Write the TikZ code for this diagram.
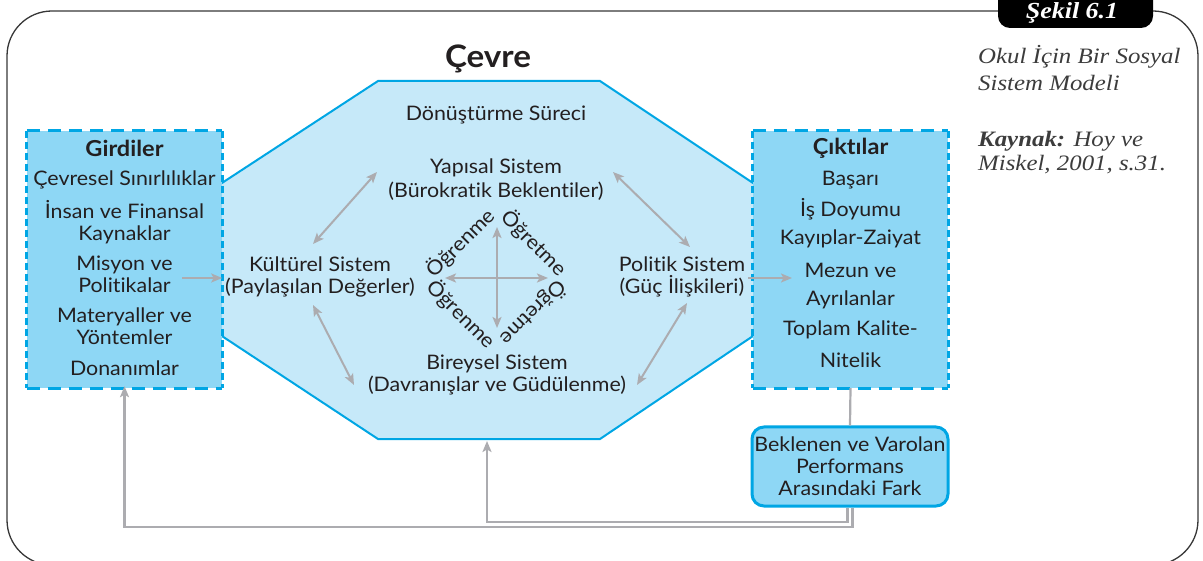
\documentclass[tikz,border=0pt]{standalone}
\usepackage{fontspec}
\setmainfont[FakeStretch=1.07, Ligatures=NoCommon]{Lato}
\newfontfamily\sidefont[FakeStretch=1.13]{Liberation Serif}
\usetikzlibrary{arrows.meta}
\definecolor{octfill}{RGB}{198,233,249}
\definecolor{boxfill}{RGB}{142,215,245}
\definecolor{cyanline}{RGB}{0,166,228}
\definecolor{arrgray}{RGB}{172,172,176}
\definecolor{txt}{RGB}{35,31,32}
\definecolor{framegray}{RGB}{55,55,55}
\definecolor{sidetxt}{RGB}{60,60,60}
\begin{document}
\begin{tikzpicture}[x=1pt,y=-1pt,
  lbl/.style={font=\fontsize{20}{22}\selectfont, text=txt, align=center, inner sep=0pt},
  ttl/.style={lbl, font=\fontsize{22}{24}\selectfont\bfseries},
  side/.style={font=\fontsize{22}{26}\selectfont\sidefont\itshape, text=sidetxt, inner sep=0pt, anchor=base west},
  conn/.style={draw=arrgray, line width=2.2pt},
  tip/.style={-{Stealth[length=11pt,width=9pt,inset=2.5pt]}},
  dbl/.style={{Stealth[length=11pt,width=9pt,inset=2.5pt]}-{Stealth[length=11pt,width=9pt,inset=2.5pt]}},
  boxbg/.style={fill=boxfill, inner sep=0pt, minimum width=195pt, minimum height=257pt},
  hd/.style={draw=cyanline, line width=3pt, dash pattern=on 13pt off 8pt},
  vd/.style={draw=cyanline, line width=3pt, dash pattern=on 7pt off 4pt},
  octo/.style={fill=octfill, draw=cyanline, line width=2pt, line join=miter}
]
\useasboundingbox (0,0) rectangle (1203,561);

% outer frame and tab
\draw[framegray, line width=1.3pt, rounded corners=45pt] (7,11) rectangle (1198,565);
\fill[black, rounded corners=12pt] (998,-20) rectangle (1153,28);
\node[font=\fontsize{23}{26}\selectfont\sidefont\bfseries\itshape, text=white, inner sep=0pt] (sekil) at (1072,13) {Şekil 6.1};

% side text
\node[side] (okul1) at (978,64) {Okul İçin Bir Sosyal};
\node[side] (okul2) at (978,91) {Sistem Modeli};
\node[side] (kay1) at (978,147) {\bfseries Kaynak:\mdseries{} Hoy ve};
\node[side] (kay2) at (978,171) {Miskel, 2001, s.31.};

% octagon
\draw[octo] (212,189.5) -- (378,81) -- (600,81) -- (763,189.7) -- (763,329.3) -- (600,439) -- (378,439) -- (212,329.5) -- cycle;

% boxes
\node[boxbg] (gird) at (124.5,259.5) {};
\node[boxbg] (cikt) at (850.5,259.5) {};
\foreach \b in {gird,cikt}{
  \draw[hd] (\b.north west) -- (\b.north east);
  \draw[hd] (\b.south west) -- (\b.south east);
  \draw[vd] (\b.north west) -- (\b.south west);
  \draw[vd] (\b.north east) -- (\b.south east);
}

% title
\node[lbl, font=\fontsize{31}{34}\selectfont\bfseries] (cevre) at (488,59) {Çevre};

% Girdiler texts
\node[ttl] (gtitle) at (124.5,148) {Girdiler};
\node[lbl] (g1) at (124.5,180) {Çevresel Sınırlılıklar};
\node[lbl] (g2) at (124.5,222) {İnsan ve Finansal\\Kaynaklar};
\node[lbl] (g3) at (124.5,274) {Misyon ve\\Politikalar};
\node[lbl] (g4) at (124.5,326) {Materyaller ve\\Yöntemler};
\node[lbl] (g5) at (124.5,368) {Donanımlar};

% Çıktılar texts
\node[ttl] (ctitle) at (850.5,148) {Çıktılar};
\node[lbl] (c1) at (850.5,180) {Başarı};
\node[lbl] (c2) at (850.5,209) {İş Doyumu};
\node[lbl] (c3) at (850.5,239) {Kayıplar-Zaiyat};
\node[lbl] (c4) at (850.5,270) {Mezun ve};
\node[lbl] (c5) at (850.5,300) {Ayrılanlar};
\node[lbl] (c6) at (850.5,330) {Toplam Kalite-};
\node[lbl] (c7) at (850.5,360) {Nitelik};

% inner system texts
\node[lbl] (donus) at (496,115) {Dönüştürme Süreci};
\node[lbl, font=\fontsize{20}{24}\selectfont] (yapisal) at (496,180) {Yapısal Sistem\\(Bürokratik Beklentiler)};
\node[lbl] (kultur) at (320,277) {Kültürel Sistem\\(Paylaşılan Değerler)};
\node[lbl] (politik) at (682,277) {Politik Sistem\\(Güç İlişkileri)};
\node[lbl] (bireysel) at (497,375) {Bireysel Sistem\\(Davranışlar ve Güdülenme)};

\node[lbl, rotate=45] (ogr1) at (460,243) {Öğrenme};
\node[lbl, rotate=-45] (ogt1) at (534,243) {Öğretme};
\node[lbl, rotate=-45] (ogr2) at (461,314) {Öğrenme};
\node[lbl, rotate=225] (ogt2) at (533,313) {Öğretme};

% center cross
\coordinate (cT) at (497,227);
\coordinate (cB) at (497,328);
\coordinate (cL) at (445,278);
\coordinate (cR) at (548,278);
\draw[conn, dbl] (cT) -- (cB);
\draw[conn, dbl] (cL) -- (cR);

% double arrows between systems
\coordinate (ky1) at (313,244); \coordinate (ky2) at (377,172);
\coordinate (yp1) at (613,172); \coordinate (yp2) at (690,247);
\coordinate (pb1) at (687,303); \coordinate (pb2) at (637,385);
\coordinate (kb1) at (313,305); \coordinate (kb2) at (354,385);
\draw[conn, line width=2pt, dbl] (ky1) -- (ky2);
\draw[conn, line width=2pt, dbl] (yp1) -- (yp2);
\draw[conn, line width=2pt, dbl] (pb1) -- (pb2);
\draw[conn, line width=2pt, dbl] (kb1) -- (kb2);

% input / output arrows
\coordinate (ginS) at (182,278);
\draw[conn, line width=2pt, tip] (ginS) -- (gird.east |- ginS);
\coordinate (poutS) at (748,278);
\coordinate (poutE) at (792,278);
\draw[conn, line width=2pt, tip] (poutS) -- (poutE);

% feedback box
\node[lbl, fill=boxfill, draw=cyanline, line width=3pt, rounded corners=12pt,
      minimum width=196pt, minimum height=79pt] (bek) at (850,466.5)
      {Beklenen ve Varolan\\Performans\\Arasındaki Fark};
\draw[conn] (cikt.south) -- (bek.north);

% feedback lines
\coordinate (octB) at (487,441);
\coordinate (fb1) at (487,522);
\coordinate (fb2) at (124.5,527);
\draw[conn, tip] ([xshift=-2.5pt]bek.south) |- (fb1) -- (octB);
\draw[conn, tip] ([xshift=2.5pt]bek.south) |- (fb2) -- ([yshift=2pt]gird.south);
\end{tikzpicture}
\end{document}
